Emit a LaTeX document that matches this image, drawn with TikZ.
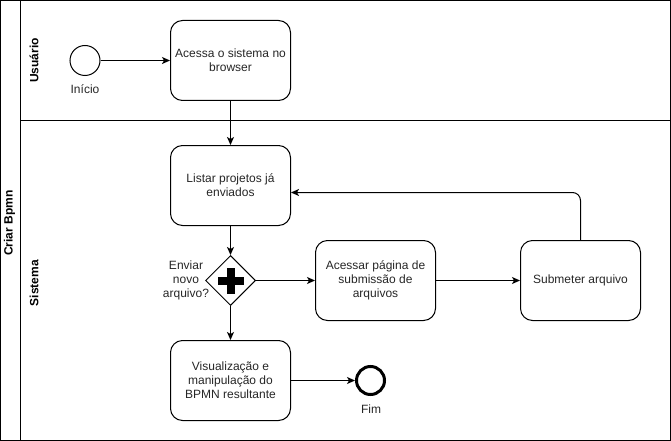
\documentclass[tikz,border=0pt]{standalone}
\usepackage{fontspec}
\setmainfont{Liberation Sans}
\usetikzlibrary{shapes.geometric,arrows.meta,calc}
\begin{document}
\begin{tikzpicture}[x=1pt,y=-1pt,
  every node/.style={font=\fontsize{12}{14}\selectfont, text=black!85},
  task/.style={draw, rounded corners=12pt, minimum width=120pt, minimum height=80pt, align=center, inner sep=2pt, line width=1pt},
  event/.style={draw, circle, minimum size=30pt, inner sep=0pt, line width=1pt},
  endevent/.style={draw, circle, minimum size=28pt, inner sep=0pt, line width=3pt},
  gate/.style={draw, diamond, aspect=1, minimum size=50pt, inner sep=0pt, line width=1pt},
  lbl/.style={align=center, inner sep=0pt},
  lanelbl/.style={rotate=90, font=\bfseries\fontsize{12}{14}\selectfont, inner sep=0pt, text=black},
  flow/.style={line width=1pt, -{Stealth[length=8pt,width=7pt,inset=2pt]}}
]
\useasboundingbox (0,0) rectangle (671,441);
% pool and lanes
\draw[line width=1pt] (0.5,0.5) rectangle (670.5,440.5);
\draw[line width=1pt] (20.5,0.5) -- (20.5,440.5);
\draw[line width=1pt] (20.5,120.5) -- (670.5,120.5);
\node[lanelbl] (pool) at (9.5,223) {Criar Bpmn};
\node[lanelbl] (lane1) at (34,60.5) {Usuário};
\node[lanelbl] (lane2) at (34,283) {Sistema};
% elements
\node[event] (start) at (85,60.5) {};
\node[lbl] (startlbl) at (85,89) {Início};
\node[task] (box1) at (230.5,60.5) {Acessa o sistema no\\browser};
\node[task] (box2) at (230.5,185.5) {Listar projetos já\\enviados};
\node[gate] (gw) at (230.5,280.5) {};
\fill[black] ($(gw)+(-13,-4)$) rectangle ($(gw)+(13,4)$);
\fill[black] ($(gw)+(-4,-13)$) rectangle ($(gw)+(4,13)$);
\node[lbl] (gwlbl) at (186,280.5) {Enviar\\novo\\arquivo?};
\node[task] (box3) at (375.5,280.5) {Acessar página de\\submissão de\\arquivos};
\node[task] (box4) at (580.5,280.5) {Submeter arquivo};
\node[task] (box5) at (230.5,380.5) {Visualização e\\manipulação do\\BPMN resultante};
\node[endevent] (end) at (370.5,380.5) {};
\node[lbl] (endlbl) at (371,409) {Fim};
% flows
\draw[flow] (start) -- (box1);
\draw[flow] (box1) -- (box2);
\draw[flow] (box2) -- (gw);
\draw[flow] (gw) -- (box5);
\draw[flow] (gw) -- (box3);
\draw[flow] (box3) -- (box4);
\draw[flow] (box5) -- (end);
\draw[flow, rounded corners=8pt] (box4.north) |- ($(box2.east)+(0,7)$);
\end{tikzpicture}
\end{document}
